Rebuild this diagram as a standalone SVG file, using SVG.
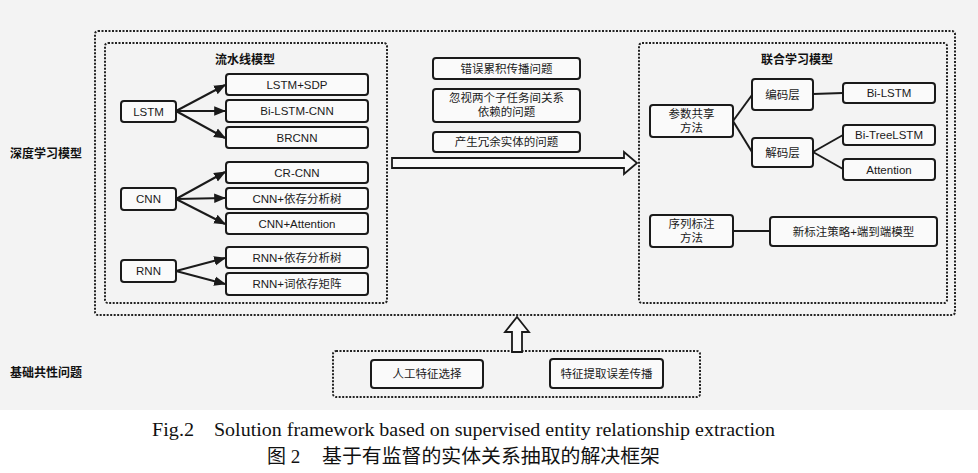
<svg xmlns="http://www.w3.org/2000/svg" width="978" height="473" viewBox="0 0 978 473">
<style>
.bg{fill:#f3f3f3}
.dot{fill:none;stroke:#222;stroke-width:2;stroke-dasharray:2 1.5}
.box{fill:#fafafa;stroke:#1a1a1a;stroke-width:2}
.t{font-family:"Liberation Sans","Noto Sans CJK SC",sans-serif;font-size:11.5px;fill:#1a1a1a;text-anchor:middle}
.h{font-family:"Noto Sans CJK SC",sans-serif;font-size:12px;font-weight:bold;fill:#111;text-anchor:middle}
.l{font-family:"Noto Sans CJK SC",sans-serif;font-size:12px;font-weight:bold;fill:#111}
.c{fill:none;stroke:#1a1a1a;stroke-width:2}
.a{fill:none;stroke:#1a1a1a;stroke-width:2;marker-end:url(#ah)}
.hol{fill:#fafafa;stroke:#1a1a1a;stroke-width:1.8}
.cap{font-family:"Liberation Serif","Noto Sans CJK SC",serif;font-size:18px;fill:#111}
.capz{font-family:"Liberation Serif","Noto Sans CJK SC",serif;font-size:19px;fill:#111}
</style>
<defs>
<marker id="ah" viewBox="0 0 10 10" refX="9" refY="5" markerWidth="6" markerHeight="6" orient="auto" markerUnits="strokeWidth">
<path d="M0,1 L10,5 L0,9 z" fill="#1a1a1a"/>
</marker>
</defs>
<rect class="bg" x="0" y="0" width="978" height="410"/>
<rect x="0" y="410" width="978" height="63" fill="#ffffff"/>

<g id="frames">
<rect class="dot" x="95" y="31" width="860" height="284" rx="3"/>
<rect class="dot" x="105" y="43" width="282" height="260" rx="3"/>
<rect class="dot" x="639" y="43" width="308" height="260" rx="3"/>
<rect class="dot" x="333" y="351" width="367" height="46" rx="3"/>
</g>

<g id="labels">
<text class="l" x="10" y="158">深度学习模型</text>
<text class="l" x="10" y="377">基础共性问题</text>
<text class="h" x="245" y="64">流水线模型</text>
<text class="h" x="797" y="64">联合学习模型</text>
</g>

<g id="n-lstm"><rect class="box" x="121" y="101" width="55" height="21" rx="3"/><text class="t" x="148.5" y="115.5">LSTM</text></g>
<g id="n-lstmsdp"><rect class="box" x="226" y="74" width="142" height="21" rx="3"/><text class="t" x="297" y="88.5">LSTM+SDP</text></g>
<g id="n-bilstmcnn"><rect class="box" x="226" y="100" width="142" height="22" rx="3"/><text class="t" x="297" y="115">Bi-LSTM-CNN</text></g>
<g id="n-brcnn"><rect class="box" x="226" y="127" width="142" height="21" rx="3"/><text class="t" x="297" y="141.5">BRCNN</text></g>
<g id="n-cnn"><rect class="box" x="121" y="188" width="55" height="22" rx="3"/><text class="t" x="148.5" y="203">CNN</text></g>
<g id="n-crcnn"><rect class="box" x="226" y="162" width="142" height="21" rx="3"/><text class="t" x="297" y="176.5">CR-CNN</text></g>
<g id="n-cnndep"><rect class="box" x="226" y="188" width="142" height="21" rx="3"/><text class="t" x="297" y="202.5">CNN+依存分析树</text></g>
<g id="n-cnnatt"><rect class="box" x="226" y="213" width="142" height="21" rx="3"/><text class="t" x="297" y="227.5">CNN+Attention</text></g>
<g id="n-rnn"><rect class="box" x="121" y="260" width="55" height="22" rx="3"/><text class="t" x="148.5" y="275">RNN</text></g>
<g id="n-rnndep"><rect class="box" x="226" y="247" width="142" height="21" rx="3"/><text class="t" x="297" y="261.5">RNN+依存分析树</text></g>
<g id="n-rnnword"><rect class="box" x="226" y="273" width="142" height="22" rx="3"/><text class="t" x="297" y="288">RNN+词依存矩阵</text></g>

<g id="n-p1"><rect class="box" x="433" y="58" width="147" height="21" rx="3"/><text class="t" x="506.5" y="72.5">错误累积传播问题</text></g>
<g id="n-p2"><rect class="box" x="433" y="89" width="147" height="33" rx="3"/><text class="t" x="506.5" y="102">忽视两个子任务间关系</text><text class="t" x="506.5" y="116">依赖的问题</text></g>
<g id="n-p3"><rect class="box" x="433" y="132" width="147" height="20" rx="3"/><text class="t" x="506.5" y="146">产生冗余实体的问题</text></g>

<g id="n-share"><rect class="box" x="650" y="105" width="83" height="32" rx="3"/><text class="t" x="691.5" y="118">参数共享</text><text class="t" x="691.5" y="132">方法</text></g>
<g id="n-enc"><rect class="box" x="752" y="79" width="61" height="31" rx="3"/><text class="t" x="782.5" y="98.5">编码层</text></g>
<g id="n-bilstm"><rect class="box" x="843" y="83" width="92" height="20" rx="3"/><text class="t" x="889" y="97">Bi-LSTM</text></g>
<g id="n-dec"><rect class="box" x="752" y="138" width="61" height="29" rx="3"/><text class="t" x="782.5" y="156.5">解码层</text></g>
<g id="n-bitree"><rect class="box" x="843" y="125" width="92" height="20" rx="3"/><text class="t" x="889" y="139">Bi-TreeLSTM</text></g>
<g id="n-att"><rect class="box" x="843" y="159" width="92" height="21" rx="3"/><text class="t" x="889" y="173.5">Attention</text></g>
<g id="n-seq"><rect class="box" x="650" y="215" width="83" height="32" rx="3"/><text class="t" x="691.5" y="228">序列标注</text><text class="t" x="691.5" y="242">方法</text></g>
<g id="n-new"><rect class="box" x="770" y="217" width="167" height="29" rx="3"/><text class="t" x="853.5" y="235.5">新标注策略+端到端模型</text></g>

<g id="n-manual"><rect class="box" x="371" y="360" width="112" height="28" rx="3"/><text class="t" x="427" y="378">人工特征选择</text></g>
<g id="n-err"><rect class="box" x="550" y="359" width="113" height="29" rx="3"/><text class="t" x="606.5" y="377.5">特征提取误差传播</text></g>

<g id="connectors">
<line class="a" x1="176" y1="111" x2="225" y2="85"/>
<line class="a" x1="176" y1="111" x2="225" y2="111"/>
<line class="a" x1="176" y1="111" x2="225" y2="138"/>
<line class="a" x1="176" y1="199" x2="225" y2="172"/>
<line class="a" x1="176" y1="199" x2="225" y2="198"/>
<line class="a" x1="176" y1="199" x2="225" y2="224"/>
<line class="a" x1="176" y1="271" x2="225" y2="258"/>
<line class="a" x1="176" y1="271" x2="225" y2="284"/>
<line class="c" x1="733" y1="121" x2="752" y2="95"/>
<line class="c" x1="733" y1="121" x2="752" y2="152"/>
<line class="c" x1="813" y1="94" x2="843" y2="93"/>
<line class="c" x1="813" y1="152" x2="843" y2="135"/>
<line class="c" x1="813" y1="152" x2="843" y2="169"/>
<line class="c" x1="733" y1="231" x2="770" y2="231"/>
<polygon class="hol" points="392,158 624,158 624,152 637,163 624,174 624,168 392,168"/>
<polygon class="hol" points="512,352 512,332 505,332 517,317 529,332 522,332 522,352"/>
</g>

<g id="caption">
<text class="cap" x="152" y="436" textLength="42" lengthAdjust="spacingAndGlyphs">Fig.2</text>
<text class="cap" x="214" y="436" textLength="561" lengthAdjust="spacingAndGlyphs">Solution framework based on supervised entity relationship extraction</text>
<text class="capz" x="267" y="463">图 2</text>
<text class="capz" x="322" y="463" textLength="338" lengthAdjust="spacingAndGlyphs">基于有监督的实体关系抽取的解决框架</text>
</g>
</svg>
